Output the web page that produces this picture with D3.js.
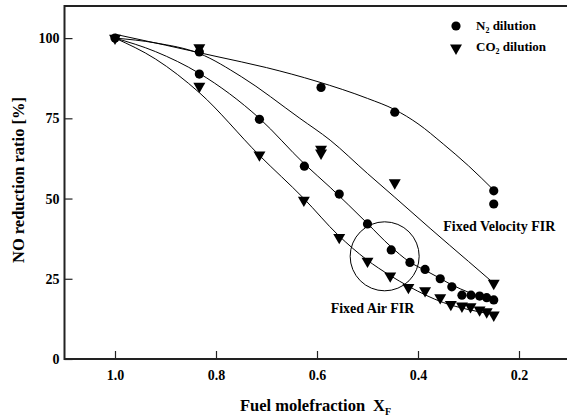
<!DOCTYPE html>
<html>
<head>
<meta charset="utf-8">
<script src="https://cdn.jsdelivr.net/npm/d3@7"></script>
<style>
  body { margin: 0; background: #fff; }
  text { font-family: "Liberation Serif", "Times New Roman", serif; font-weight: bold; fill: #000; }
  .frame { stroke: #222; stroke-width: 2; fill: none; }
  .fit { stroke: #000; stroke-width: 1; fill: none; }
</style>
</head>
<body>
<script>
// Data ------------------------------------------------------------------------
// measured points, N2 dilution (circles)
var n2X = [1.0, 0.833, 0.833, 0.714, 0.625, 0.592, 0.556, 0.5, 0.453, 0.446, 0.416, 0.386,
           0.356, 0.333, 0.313, 0.295, 0.278, 0.264, 0.25, 0.25, 0.25];
var n2Y = [100, 88.8, 95.7, 74.7, 60.1, 84.6, 51.4, 42.1, 34.0, 76.9, 30.1, 27.9,
           25.0, 22.5, 19.9, 19.9, 19.6, 19.1, 18.4, 52.4, 48.3];

// measured points, CO2 dilution (triangles)
var co2X = [1.0, 0.833, 0.833, 0.714, 0.626, 0.592, 0.592, 0.556, 0.5, 0.455, 0.446, 0.419,
            0.386, 0.356, 0.335, 0.313, 0.296, 0.278, 0.264, 0.25, 0.25];
var co2Y = [100, 97.0, 85.0, 63.6, 49.5, 65.4, 64.2, 37.9, 30.5, 25.9, 54.9, 22.3,
            21.3, 19.1, 17.0, 16.5, 16.3, 15.3, 14.7, 13.7, 23.6];

// fitted curves
var velN2X  = [1.0, 0.9, 0.8, 0.7, 0.6, 0.5, 0.446, 0.4, 0.35, 0.3, 0.25];
var velN2Y  = [101.2, 97.8, 94.3, 90.8, 86.5, 81.2, 77.7, 73.3, 67.0, 60.2, 52.6];
var velCO2X = [1.0, 0.92, 0.833, 0.75, 0.634, 0.574, 0.5, 0.446, 0.376, 0.3, 0.25];
var velCO2Y = [100, 98.5, 95.2, 88.0, 75.0, 68.2, 57.8, 50.4, 40.7, 30.4, 23.6];
var airN2X  = [1.0, 0.92, 0.833, 0.714, 0.625, 0.574, 0.5, 0.455, 0.418, 0.383, 0.356, 0.333, 0.3, 0.275, 0.25];
var airN2Y  = [100, 95.8, 89.0, 75.0, 60.8, 53.5, 42.2, 35.2, 30.4, 27.4, 25.1, 23.1, 20.8, 19.3, 18.1];
var airCO2X = [1.0, 0.92, 0.833, 0.715, 0.626, 0.558, 0.502, 0.455, 0.418, 0.35, 0.3, 0.25];
var airCO2Y = [100, 93.5, 83.0, 63.6, 50.0, 38.6, 31.0, 26.0, 22.6, 17.6, 15.4, 13.9];

// ticks
var xTicks = [1.0, 0.8, 0.6, 0.4, 0.2];
var yTicks = [0, 25, 50, 75, 100];

// annotations (data units)
var noteText = ["Fixed Velocity FIR", "Fixed Air FIR"];
var noteX = [0.35, 0.573];
var noteY = [39.9, 14.4];
var ringX = 0.466, ringY = 32;

// Layout ----------------------------------------------------------------------
var W = 567, H = 418;
var x = d3.scaleLinear().domain([1.1, 0.1]).range([64.5, 569.5]);
var y = d3.scaleLinear().domain([0, 110]).range([359, 6]);

var svg = d3.select("body").append("svg")
            .attr("width", W)
            .attr("height", H);

function zip(xs, ys) { return xs.map(function(v, i) { return [v, ys[i]]; }); }

// x values fall while pixels rise, so the curve is monotone in screen x
var line = d3.line()
             .x(function(d) { return x(d[0]); })
             .y(function(d) { return y(d[1]); })
             .curve(d3.curveMonotoneX);

// fitted curves
[[velN2X, velN2Y], [velCO2X, velCO2Y], [airN2X, airN2Y], [airCO2X, airCO2Y]].forEach(function(c) {
    svg.append("path")
       .datum(zip(c[0], c[1]))
       .attr("class", "fit")
       .attr("d", line);
});

// highlight ring
svg.append("circle")
   .attr("cx", x(ringX))
   .attr("cy", y(ringY))
   .attr("r", 34.5)
   .attr("fill", "none")
   .attr("stroke", "#000")
   .attr("stroke-width", 1);

// markers
var tri = d3.symbol().type(d3.symbolTriangle).size(62);

svg.append("g").selectAll("path")
   .data(zip(co2X, co2Y))
   .join("path")
   .attr("d", tri)
   .attr("transform", function(d) { return "translate(" + x(d[0]) + "," + y(d[1]) + ") rotate(180)"; })
   .attr("fill", "#000");

svg.append("g").selectAll("circle")
   .data(zip(n2X, n2Y))
   .join("circle")
   .attr("cx", function(d) { return x(d[0]); })
   .attr("cy", function(d) { return y(d[1]); })
   .attr("r", 4.6)
   .attr("fill", "#000");

// axes (ticks pointing inward)
var xAxis = svg.append("g")
   .attr("transform", "translate(0,359)")
   .call(d3.axisBottom(x)
           .tickValues(xTicks)
           .tickFormat(d3.format(".1f"))
           .tickSizeInner(-8)
           .tickSizeOuter(0)
           .tickPadding(11));

var yAxis = svg.append("g")
   .attr("transform", "translate(64.5,0)")
   .call(d3.axisLeft(y)
           .tickValues(yTicks)
           .tickSizeInner(-8)
           .tickSizeOuter(0)
           .tickPadding(5));

[xAxis, yAxis].forEach(function(a) {
    a.select(".domain").remove();
    a.selectAll("line").attr("stroke", "#222").attr("stroke-width", 1.2);
    a.selectAll("text").attr("font-size", 14).attr("font-family", null);
});

// frame: left, bottom, top (right side runs off the picture)
svg.append("path")
   .attr("class", "frame")
   .attr("d", "M" + W + "," + y(110) + "H" + x(1.1) + "V" + y(0) + "H" + W);

// legend
svg.append("circle").attr("cx", 456).attr("cy", 26).attr("r", 4.6).attr("fill", "#000");
svg.append("path").attr("d", tri).attr("transform", "translate(456,48) rotate(180)").attr("fill", "#000");

var l1 = svg.append("text").attr("x", 476).attr("y", 29.5).attr("font-size", 13);
l1.append("tspan").text("N");
l1.append("tspan").attr("font-size", 8).attr("dy", 3).text("2");
l1.append("tspan").attr("dy", -3).text(" dilution");

var l2 = svg.append("text").attr("x", 476).attr("y", 51).attr("font-size", 13);
l2.append("tspan").text("CO");
l2.append("tspan").attr("font-size", 8).attr("dy", 3).text("2");
l2.append("tspan").attr("dy", -3).text(" dilution");

// annotations
noteText.forEach(function(t, i) {
    svg.append("text")
       .attr("x", x(noteX[i]))
       .attr("y", y(noteY[i]))
       .attr("font-size", 14)
       .text(t);
});

// axis titles
var xt = svg.append("text").attr("x", 240).attr("y", 410.5).attr("font-size", 16.5);
xt.append("tspan").text("Fuel molefraction");
xt.append("tspan").attr("dx", 8).text("X");
xt.append("tspan").attr("font-size", 10).attr("dy", 4).text("F");

svg.append("text")
   .attr("transform", "translate(24,180) rotate(-90)")
   .attr("text-anchor", "middle")
   .attr("font-size", 16.5)
   .text("NO reduction ratio [%]");
</script>
</body>
</html>
